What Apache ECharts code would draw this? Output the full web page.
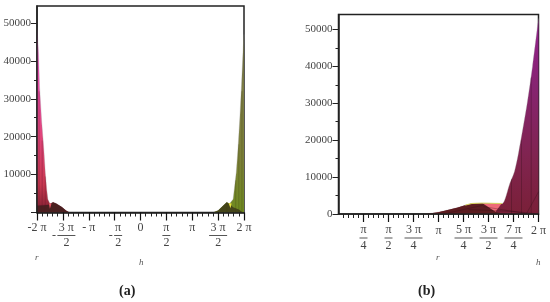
<!DOCTYPE html>
<html><head><meta charset="utf-8">
<style>html,body{margin:0;padding:0;background:#fff}#c{width:550px;height:302px;filter:blur(0.35px)}</style>
<script src="https://cdn.jsdelivr.net/npm/echarts@6/dist/echarts.min.js"></script>
</head><body><div id="c"></div>
<script>
// x values are in multiples of pi
const yTicks = [0,10000,20000,30000,40000,50000];
const aXTicks = [-2,-1.5,-1,-0.5,0,0.5,1,1.5,2];
const bXTicks = [0.25,0.5,0.75,1,1.25,1.5,1.75,2];
const aLeftEnvelope = [[-2,49000],[-1.97,42000],[-1.95,33000],[-1.91,24000],[-1.87,17000],[-1.84,10500],[-1.81,5800],[-1.79,3500],[-1.75,2300],[-1.69,2700],[-1.63,2400],[-1.52,1450],[-1.44,500],[-1.37,0]];
const aRightEnvelope = [[1.40,0],[1.5,500],[1.575,1500],[1.666,2700],[1.72,2300],[1.79,3500],[1.81,5800],[1.85,10500],[1.885,17000],[1.92,25000],[1.95,33000],[1.98,42000],[2,47000]];
const aLeftHump = [[-2,0],[-2,1800],[-1.81,2000],[-1.75,2200],[-1.69,2700],[-1.63,2400],[-1.52,1450],[-1.44,500],[-1.37,0]];
const aRightHump = [[1.40,0],[1.5,500],[1.575,1500],[1.666,2700],[1.72,2300],[1.79,1400],[1.9,800],[1.98,0]];
const aLeftPatch = [[-1.77,2300],[-1.72,2400],[-1.75,1000]];
const aRightPatch = [[1.70,2500],[1.76,2400],[1.74,1100]];
const bEnvelope = [[0.867,0],[0.998,500],[1.185,1700],[1.268,2400],[1.335,2850],[1.436,2900],[1.636,2800],[1.665,4000],[1.71,8000],[1.76,11500],[1.80,16500],[1.887,30000],[1.94,40000],[2,53000]];
const bHump = [[0.867,0],[0.998,500],[1.185,1700],[1.268,2400],[1.335,2850],[1.436,2900],[1.57,600],[1.66,0]];
const bPatch = [[1.445,2850],[1.63,2800],[1.57,600]];
const bRim = [[1.268,2400],[1.335,2850],[1.436,2950],[1.636,2850]];
const aLeftMesh = [[[-1.96,0],[-1.96,32000]],[[-1.9,0],[-1.9,19000]],[[-1.84,0],[-1.84,9500]],[[-2,1800],[-1.8,2000]]];
const aRightMesh = [[[1.96,0],[1.96,32000]],[[1.9,0],[1.9,18000]],[[1.84,0],[1.84,8500]],[[1.67,0],[1.67,2500]]];
const bMesh = [[[1.927,0],[1.927,37000]],[[1.83,0],[1.83,20000]],[[1.73,0],[1.73,9500]],[[1.3,1200],[1.75,700],[2,0]],[[1.45,2000],[1.88,100],[2,6000]],[[1.1,300],[1.45,2400]]];

const F = '"Liberation Serif",serif';
const pad = '{s| }';
function frac(n,d,neg){
  const bar = n.length>1 ? 'B' : 'b';
  const p = neg ? pad : '';
  return p+'{n|'+n+'}\n'+(neg?'{m|-}':'')+'{'+bar+'|}\n'+p+'{n|'+d+'}';
}
const rich = {
  n:{fontFamily:F,fontSize:12,color:'#444',lineHeight:12.5},
  m:{fontFamily:F,fontSize:12,color:'#444',width:7,height:2,lineHeight:3},
  b:{width:8,height:1,backgroundColor:'#555',lineHeight:3},
  B:{width:18,height:1,backgroundColor:'#555',lineHeight:3},
  s:{width:7,fontSize:12},
  t:{fontFamily:F,fontSize:12,color:'#444',lineHeight:13}
};
const aNames = {'-2':'{t|-2 π}','-1.5':frac('3 π','2',true),'-1':'{t|- π}','-0.5':frac('π','2',true),'0':'{t|0}','0.5':frac('π','2'),'1':'{t|π}','1.5':frac('3 π','2'),'2':'{t|2 π}'};
const bNames = {'0.25':frac('π','4'),'0.5':frac('π','2'),'0.75':frac('3 π','4'),'1':'{t|π}','1.25':frac('5 π','4'),'1.5':frac('3 π','2'),'1.75':frac('7 π','4'),'2':'{t|2 π}'};

function xAxis(idx,min,max,interval,ticks,names,margin){
  return {type:'value',gridIndex:idx,min,max,interval,z:10,
    axisLine:{onZero:false,lineStyle:{color:'#222',width:1.5}},
    axisTick:{show:true,length:8,customValues:ticks,lineStyle:{color:'#111',width:1.2}},
    minorTick:{show:true,splitNumber:5,length:4,lineStyle:{color:'#222',width:1}},
    splitLine:{show:false},minorSplitLine:{show:false},
    axisLabel:{margin,verticalAlign:'top',hideOverlap:false,showMinLabel:true,showMaxLabel:true,
      customValues:ticks,formatter:v=>names[String(v)]||'',rich}};
}
function yAxis(idx,max,labels){
  return {type:'value',gridIndex:idx,min:0,max,z:10,interval:10000,
    axisLine:{show:true,onZero:false,lineStyle:{color:'#222',width:1.5}},
    axisTick:{show:true,length:6,customValues:yTicks,lineStyle:{color:'#222',width:1}},
    minorTick:{show:true,splitNumber:2,length:3,lineStyle:{color:'#222',width:1}},
    splitLine:{show:false},minorSplitLine:{show:false},
    axisLabel:{margin:6,customValues:labels,fontFamily:F,fontSize:11,color:'#444',formatter:v=>String(v)}};
}
const grad = (stops)=>new echarts.graphic.LinearGradient(0,0,0,1,stops.map((c)=>({offset:c[0],color:c[1]})));
function env(idx,data,stops,smooth){
  return {type:'line',xAxisIndex:idx,yAxisIndex:idx,data,symbol:'none',silent:true,z:2,smooth:smooth||false,
    lineStyle:{width:0.5,color:'#999',opacity:.6},areaStyle:{opacity:1,color:grad(stops)}};
}
function patch(idx,pts,fill,z){
  return {type:'custom',xAxisIndex:idx,yAxisIndex:idx,data:pts,silent:true,z:z||3,encode:{x:0,y:1},
    renderItem:(p,api)=>p.dataIndex===0?{type:'polygon',shape:{points:pts.map(q=>api.coord(q))},style:{fill}}:null};
}
function mesh(idx,lines,color,width){
  return lines.map(d=>({type:'line',xAxisIndex:idx,yAxisIndex:idx,data:d,symbol:'none',silent:true,z:5,
    lineStyle:{color,width:width||0.6,opacity:.5}}));
}
const label=(left,top,text,style)=>({type:'text',left,top,style:Object.assign({text,fontFamily:F,fill:'#555',fontSize:9,fontStyle:'italic'},style||{})});

const chart = echarts.init(document.getElementById('c'),null,{renderer:'canvas'});
chart.setOption({
  animation:false,
  grid:[
    {left:37,right:306,top:6,bottom:89.5,show:true,borderColor:'#222',borderWidth:1.5,backgroundColor:'transparent'},
    {left:338.5,right:11.5,top:14.5,bottom:88,show:true,borderColor:'#222',borderWidth:1.5,backgroundColor:'transparent'}
  ],
  xAxis:[xAxis(0,-2,2,0.5,aXTicks,aNames,9),xAxis(1,0,2,0.25,bXTicks,bNames,10)],
  yAxis:[yAxis(0,54485,yTicks.slice(1)),yAxis(1,54065,yTicks)],
  graphic:[
    label(35,253,'r'),label(139,258,'h'),
    label(119,284,'(a)',{fontSize:14,fontStyle:'normal',fontWeight:'bold',fill:'#222'}),
    label(436,253,'r'),label(536,258,'h'),
    label(418,284,'(b)',{fontSize:14,fontStyle:'normal',fontWeight:'bold',fill:'#222'})
  ],
  series:[
    env(0,aLeftEnvelope,[[0,'#f048d0'],[.3,'#e848a8'],[.6,'#e04478'],[.85,'#c83850'],[1,'#802030']]),
    patch(0,aLeftHump,'#4a2020'),
    patch(0,aLeftPatch,'#ee5a68',4),
    ...mesh(0,aLeftMesh,'#5a1428'),
    env(0,aRightEnvelope,[[0,'#5a5a30'],[.3,'#7c7c44'],[.7,'#7c8038'],[1,'#6f8a20']]),
    patch(0,aRightHump,'#45451a'),
    patch(0,aRightPatch,'#e8e040',4),
    ...mesh(0,aRightMesh,'#3c4010'),
    env(1,bEnvelope,[[0,'#94208e'],[.35,'#862470'],[.7,'#802450'],[1,'#7a2038']],0.25),
    patch(1,bHump,'#5c1c20'),
    patch(1,bPatch,'#ee6a78',4),
    {type:'line',xAxisIndex:1,yAxisIndex:1,data:bRim,symbol:'none',silent:true,z:5,lineStyle:{color:'#d8d860',width:1}},
    ...mesh(1,bMesh,'#2c0c14')
  ]
});
</script></body></html>
